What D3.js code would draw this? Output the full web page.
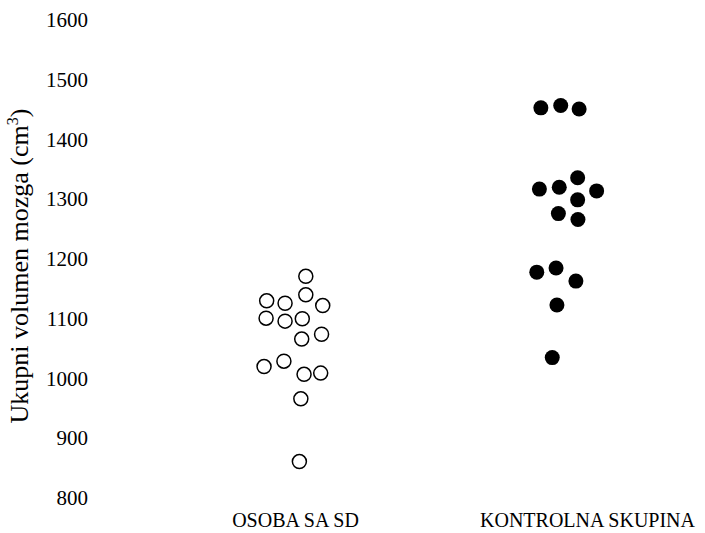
<!DOCTYPE html>
<html>
<head>
<meta charset="utf-8">
<script src="https://cdn.jsdelivr.net/npm/d3@7"></script>
<style>
  body { margin: 0; background: #fff; }
</style>
</head>
<body>
<div id="chart"></div>
<script>
'use strict';

const serif = '"Liberation Serif", "Times New Roman", Tinos, "DejaVu Serif", serif';

// categories and tick labels
const groups = ['OSOBA SA SD', 'KONTROLNA SKUPINA'];
const yTicks = [800, 900, 1000, 1100, 1200, 1300, 1400, 1500, 1600];

// SD group: x in category units (1 = first category), value in cm3
const sdX = [1.037, 0.903, 0.966, 1.037, 1.095, 0.901, 0.966, 1.025,
  1.023, 1.091, 0.894, 0.962, 1.031, 1.088, 1.020, 1.015];
const sdVal = [1171, 1130, 1126, 1140, 1122, 1101, 1096, 1100,
  1066, 1074, 1020, 1029, 1007, 1009, 966, 861];

// control group
const ctrlX = [1.842, 1.910, 1.973, 1.837, 1.905, 1.968, 2.033, 1.968,
  1.902, 1.969, 1.828, 1.894, 1.962, 1.897, 1.881];
const ctrlVal = [1453, 1457, 1451, 1317, 1320, 1336, 1314, 1299,
  1276, 1266, 1178, 1185, 1163, 1123, 1035];

const width = 705;
const height = 533;

const svg = d3.select('#chart').append('svg')
  .attr('width', width)
  .attr('height', height);

const y = d3.scaleLinear()
  .domain([800, 1600])
  .range([498, 20]);

const x = d3.scaleLinear()
  .domain([0.5, 2.5])
  .range([149, 733]);

// y axis: labels only, no line
const yAxis = svg.append('g')
  .attr('transform', 'translate(88,0)')
  .call(d3.axisLeft(y).tickValues(yTicks).tickFormat(d3.format('d')).tickSize(0).tickPadding(0));
yAxis.select('.domain').remove();
yAxis.selectAll('text')
  .style('font-family', serif)
  .style('font-size', '21px')
  .attr('fill', '#000');

// x category labels
const xAxis = svg.append('g')
  .attr('transform', 'translate(0,' + 527 + ')')
  .call(d3.axisBottom(x).tickValues([1, 2]).tickFormat(function(d) { return groups[d - 1]; })
    .tickSize(0).tickPadding(0));
xAxis.select('.domain').remove();
xAxis.selectAll('text')
  .style('font-family', serif)
  .style('font-size', '20px')
  .attr('dy', '0')
  .attr('fill', '#000');

// axis title
const title = svg.append('text')
  .attr('transform', 'translate(28,' + 266 + ') rotate(-90)')
  .attr('text-anchor', 'middle')
  .style('font-family', serif)
  .style('font-size', '26px');
title.append('tspan').text('Ukupni volumen mozga (cm');
title.append('tspan').attr('dy', '-10').style('font-size', '16px').text('3');
title.append('tspan').attr('dy', '10').text(')');

// SD points, open
svg.append('g').selectAll('circle')
  .data(sdVal)
  .join('circle')
  .attr('cx', function(d, i) { return x(sdX[i]); })
  .attr('cy', function(d) { return y(d); })
  .attr('r', 7)
  .attr('fill', '#fff')
  .attr('stroke', '#000')
  .attr('stroke-width', 1.5);

// control points, filled
svg.append('g').selectAll('circle')
  .data(ctrlVal)
  .join('circle')
  .attr('cx', function(d, i) { return x(ctrlX[i]); })
  .attr('cy', function(d) { return y(d); })
  .attr('r', 7.5)
  .attr('fill', '#000');
</script>
</body>
</html>
